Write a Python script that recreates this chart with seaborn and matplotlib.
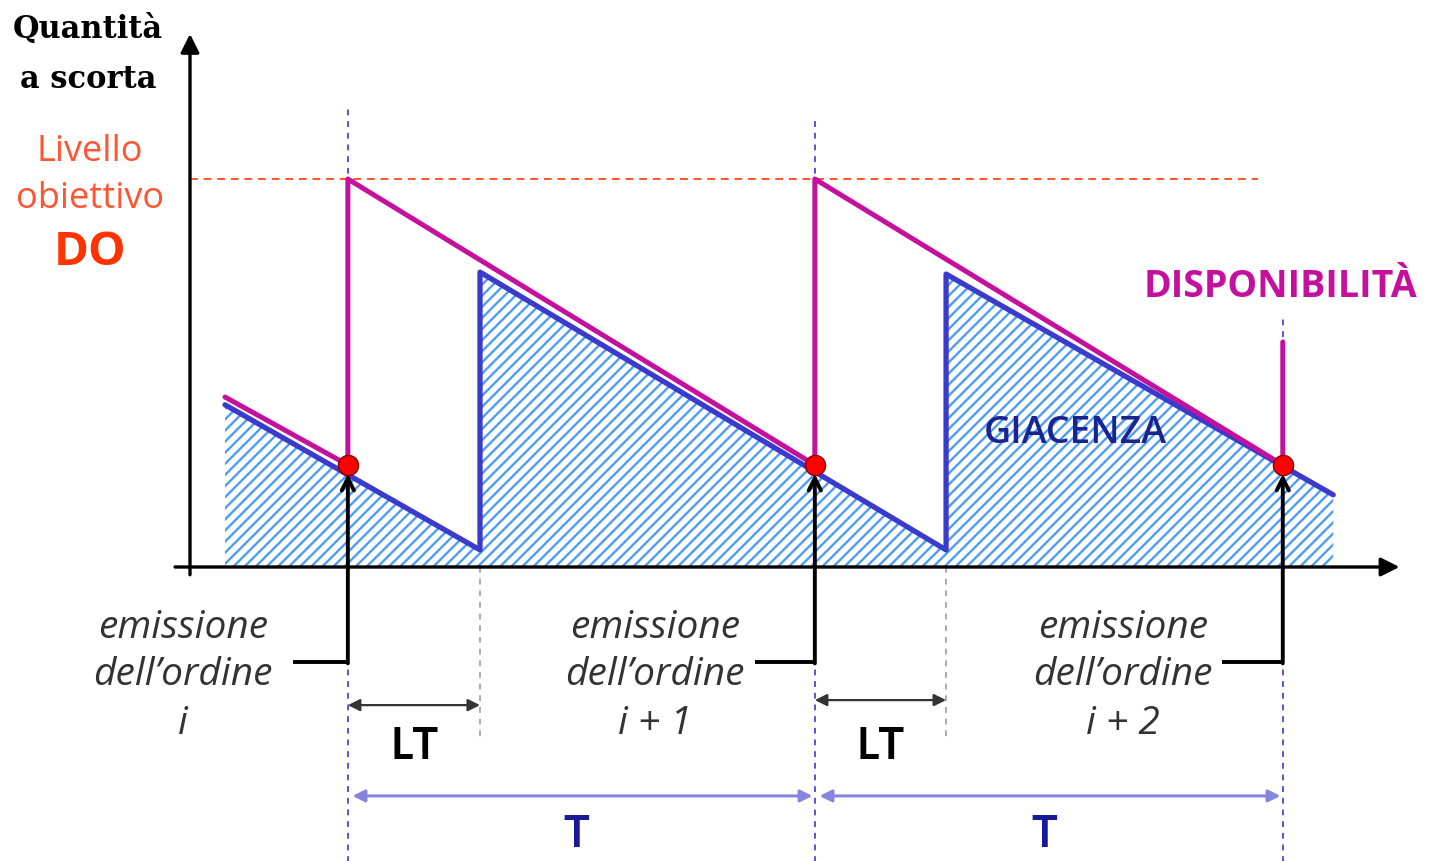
import matplotlib
matplotlib.use("Agg")
import matplotlib.pyplot as plt
import numpy as np
import pandas as pd
import seaborn as sns

# -----------------------------
# Data (time in units where T = 10, quantity where DO = 100)
# -----------------------------
DO = 100
t_ordini = [3.38, 13.38, 23.40]          # emission of orders i, i+1, i+2
t_arrivi = [6.21, 16.19]                 # arrival of the orders (after LT)
livello_ordine = 26.3                    # stock level when an order is emitted

giacenza_t = [0.75, 6.21, 6.21, 16.19, 16.19, 24.48]
giacenza_q = [41.8, 4.4, 76.0, 4.4, 75.5, 18.6]

disponib_t = [0.75, 3.38, 3.38, 13.38, 13.38, 23.40, 23.40]
disponib_q = [43.8, 26.3, 100.0, 26.3, 100.0, 26.3, 58.0]

etichette_ordine = ["i", "i + 1", "i + 2"]
etichette_x = [-0.15, 9.96, 19.98]

sns.set_theme(style="white")
plt.rcParams["font.family"] = ["Open Sans", "DejaVu Sans"]
plt.rcParams["hatch.linewidth"] = 1.7

BLU = "#3a3acc"
MAGENTA = "#c4109c"

fig = plt.figure(figsize=(14.31, 8.62), dpi=100)
ax = fig.add_axes([0, 0, 1, 1])
ax.set_xlim(-190 / 46.7, (1431 - 190) / 46.7)
ax.set_ylim(-(862 - 568) / 3.88, 568 / 3.88)
ax.axis("off")

# -----------------------------
# hatched stock area
# -----------------------------
ax.fill_between(giacenza_t, giacenza_q, 0, facecolor="white",
                edgecolor="#4d9cf5", hatch="///", linewidth=0, zorder=1)

g_df = pd.DataFrame({"t": giacenza_t, "q": giacenza_q})
d_df = pd.DataFrame({"t": disponib_t, "q": disponib_q})
sns.lineplot(data=g_df, x="t", y="q", sort=False, estimator=None,
             color=BLU, lw=3.8, ax=ax, zorder=4)
sns.lineplot(data=d_df, x="t", y="q", sort=False, estimator=None,
             color=MAGENTA, lw=3.6, ax=ax, zorder=5)

# DO level
ax.plot([0, 22.87], [DO, DO], color="#ff5522", lw=1.4, dashes=(4, 3), zorder=2)

# vertical reference lines
top_lines = [118, 115.5, 64]
for t, top in zip(t_ordini, top_lines):
    ax.plot([t, t], [-76, top], color="#5555dd", lw=1.4, dashes=(3, 3), zorder=2)
for t in t_arrivi:
    ax.plot([t, t], [0, -44.3], color="#aaaaaa", lw=1.4, dashes=(3, 3), zorder=2)

# axes with arrows
ax.annotate("", xy=(0, 137.4), xytext=(0, -2),
            arrowprops=dict(arrowstyle="-|>", color="black", lw=2.4,
                            mutation_scale=28, shrinkA=0, shrinkB=0), zorder=6)
ax.annotate("", xy=(25.9, 0), xytext=(-0.32, 0),
            arrowprops=dict(arrowstyle="-|>", color="black", lw=2.4,
                            mutation_scale=28, shrinkA=0, shrinkB=0), zorder=6)

# order emission arrows
start_x = [2.21, 12.10, 22.10]
for t, x0 in zip(t_ordini, start_x):
    ax.plot([x0, t], [-24.5, -24.5], color="black", lw=2.8, zorder=6,
            solid_capstyle="butt")
    ax.annotate("", xy=(t, 24.0), xytext=(t, -24.5 - 0.35),
                arrowprops=dict(arrowstyle="->", color="black", lw=2.8,
                                mutation_scale=22, shrinkA=0, shrinkB=0), zorder=6)

sns.scatterplot(x=t_ordini, y=[livello_ordine] * 3, s=210, color="#ff0000",
                edgecolor="#880000", linewidth=1, ax=ax, zorder=8)

# LT arrows
lt_y = [-35.6, -34.3]
for t0, t1, y in zip(t_ordini, t_arrivi, lt_y):
    ax.annotate("", xy=(t1, y), xytext=(t0, y),
                arrowprops=dict(arrowstyle="<|-|>", color="#333333", lw=1.6,
                                mutation_scale=18, shrinkA=0, shrinkB=0))
    ax.text((t0 + t1) / 2 + 0.01, -45.8, "LT", fontsize=31, fontweight="bold",
            family="Lato", color="black", ha="center", va="center")

# T arrows
for t0, t1 in zip(t_ordini[:-1], t_ordini[1:]):
    ax.annotate("", xy=(t1 - 0.05, -59.0), xytext=(t0 + 0.1, -59.0),
                arrowprops=dict(arrowstyle="<|-|>", color="#8585e0", lw=2.2,
                                mutation_scale=18, shrinkA=0, shrinkB=0))
    ax.text((t0 + t1) / 2 - 0.1, -68.6, "T", fontsize=31, fontweight="bold",
            family="Lato", color="#1a1a99", ha="center", va="center")

# -----------------------------
# texts
# -----------------------------
ax.text(-2.18, 138.7, "Quantità", fontsize=22, fontweight="bold",
        family="DejaVu Serif", ha="center", va="center", color="black")
ax.text(-2.18, 125.8, "a scorta", fontsize=22, fontweight="bold",
        family="DejaVu Serif", ha="center", va="center", color="black")
ax.text(-2.14, 107.2, "Livello", fontsize=26, color="#ff5533",
        ha="center", va="center")
ax.text(-2.14, 95.1, "obiettivo", fontsize=26, color="#ff5533",
        ha="center", va="center")
ax.text(-2.14, 81.4, "DO", fontsize=34, fontweight="bold", color="#ff3300",
        ha="center", va="center")
ax.text(23.36, 72.4, "DISPONIBILITÀ", fontsize=27, fontweight="bold",
        color=MAGENTA, ha="center", va="center")
ax.text(18.95, 34.8, "GIACENZA", fontsize=27, color="#1a2490",
        fontweight="semibold", ha="center", va="center", zorder=9)

for x, lab in zip(etichette_x, etichette_ordine):
    ax.text(x, -15.5, "emissione", fontsize=28, style="italic",
            color="#333333", ha="center", va="center")
    ax.text(x, -27.6, "dell\u2019ordine", fontsize=28, style="italic",
            color="#333333", ha="center", va="center")
    ax.text(x, -40.2, lab, fontsize=28, style="italic",
            color="#333333", ha="center", va="center")

fig.savefig("out.png", dpi=100)
plt.close(fig)
